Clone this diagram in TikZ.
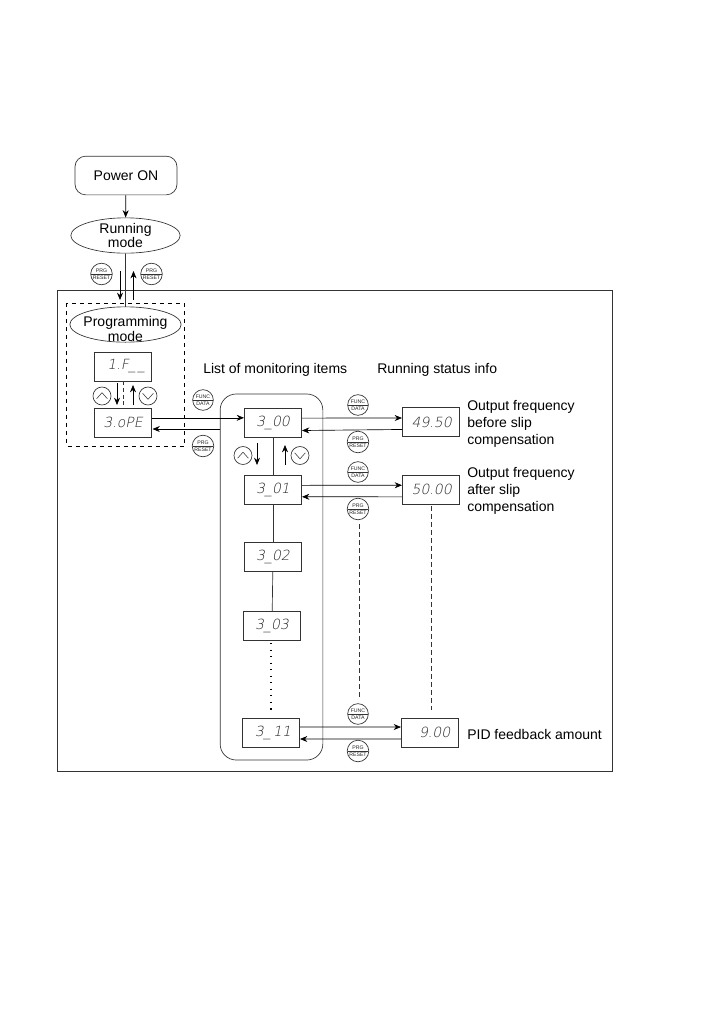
\documentclass[tikz,border=0pt]{standalone}
\usepackage{fontspec}
\setmainfont{Liberation Sans}
\newfontfamily\segfont[FakeSlant=0.2]{DejaVu Sans ExtraLight}
\usetikzlibrary{arrows.meta,shapes.geometric,shapes.multipart}
\tikzset{
	arr/.style={-{Stealth[length=5.5pt,width=4.5pt]},line width=0.5pt},
	conn/.style={line width=0.5pt,draw=black!80},
	dispbox/.style={draw=black!80,line width=0.5pt,rectangle,minimum width=43pt,minimum height=21.5pt,inner sep=0pt,font=\segfont\fontsize{10.5}{11}\selectfont,text=black!85},
	modeoval/.style={draw=black!80,line width=0.5pt,ellipse,minimum width=82pt,minimum height=26.5pt,inner xsep=-2pt,inner ysep=-4pt,align=center,font=\fontsize{10.5}{11}\selectfont},
	keybtn/.style={draw=black!80,line width=0.5pt,circle split,inner xsep=0pt,inner ysep=0.9pt,minimum size=15.5pt,font=\fontsize{3.9}{3.9}\selectfont,text=black!85},
	arrowkey/.style={draw=black!80,line width=0.5pt,circle,minimum size=13.5pt,inner sep=0pt},
	upkey/.style={arrowkey,path picture={\draw[line width=0.4pt] ([xshift=-4pt,yshift=-2pt]path picture bounding box.center) -- ([yshift=2.5pt]path picture bounding box.center) -- ([xshift=4pt,yshift=-2pt]path picture bounding box.center);}},
	downkey/.style={arrowkey,path picture={\draw[line width=0.4pt] ([xshift=-4pt,yshift=2pt]path picture bounding box.center) -- ([yshift=-2.5pt]path picture bounding box.center) -- ([xshift=4pt,yshift=2pt]path picture bounding box.center);}},
	note/.style={align=left,anchor=west,inner sep=0pt,font=\fontsize{10.5}{13}\selectfont},
}
\begin{document}
\begin{tikzpicture}[x=0.75pt,y=-0.75pt]
	\useasboundingbox (0,0) rectangle (725,1032);
	\fill[white] (0,0) rectangle (725,1032);

	% frames
	\draw[conn] (57,290) rectangle (612,771);
	\draw[line width=0.7pt,dashed] (66.5,303) rectangle (184,446);
	\node[draw=black!80,line width=0.5pt,rounded corners=12pt,minimum width=77pt,minimum height=274.5pt,inner sep=0pt] (list) at (271.5,577) {};

	% left column
	\node[draw=black!80,line width=0.5pt,rounded corners=8pt,minimum width=76.5pt,minimum height=29pt,font=\fontsize{10.5}{12}\selectfont] (power) at (126,175.5) {Power ON};
	\node[modeoval] (run) at (125.5,235.5) {Running\\mode};
	\node[modeoval,inner ysep=-7pt] (prog) at (125.5,324.5) {\rule{0pt}{14pt}Programming\\mode};
	\node[dispbox] (fcode) at (123,366.5) {\hspace{5pt}1.F\_\,\_};
	\node[dispbox] (ope) at (123,422.5) {3.oPE};

	% monitoring items
	\node[dispbox] (mon0) at (273,422.5) {3\_00};
	\node[dispbox] (mon1) at (273,490) {3\_01};
	\node[dispbox] (mon2) at (273,556.5) {3\_02};
	\node[dispbox] (mon3) at (272,626) {3\_03};
	\node[dispbox] (mon11) at (271,733) {\hspace{3pt}3\_\,11};

	% running status
	\node[dispbox] (val0) at (431,422) {\hspace{1pt}49.50};
	\node[dispbox] (val1) at (431,489.5) {\hspace{1pt}50.00};
	\node[dispbox] (val11) at (430,732.5) {\hspace{7pt}9.00};

	% keys
	\node[keybtn] (prgA) at (101.5,274) {PRG\nodepart{lower}RESET};
	\node[keybtn] (prgB) at (151.5,274) {PRG\nodepart{lower}RESET};
	\node[upkey] (upA) at (102,396) {};
	\node[downkey] (downA) at (148,396) {};
	\node[upkey] (upB) at (243,455.5) {};
	\node[downkey] (downB) at (300,455.5) {};
	\node[keybtn] (funcA) at (203,400) {FUNC\nodepart{lower}DATA};
	\node[keybtn] (prgC) at (203,446) {PRG\nodepart{lower}RESET};
	\node[keybtn] (funcB) at (358,405) {FUNC\nodepart{lower}DATA};
	\node[keybtn] (prgD) at (358,442) {PRG\nodepart{lower}RESET};
	\node[keybtn] (funcC) at (358,472) {FUNC\nodepart{lower}DATA};
	\node[keybtn] (prgE) at (358,509) {PRG\nodepart{lower}RESET};
	\node[keybtn] (funcD) at (358,714) {FUNC\nodepart{lower}DATA};
	\node[keybtn] (prgF) at (358,751) {PRG\nodepart{lower}RESET};

	% labels
	\node[note] (lblist) at (203,370) {List of monitoring items};
	\node[note] (lbstat) at (377,370) {Running status info};
	\node[note] (lbval0) at (467,424) {Output frequency\\before slip\\compensation};
	\node[note] (lbval1) at (467,491) {Output frequency\\after slip\\compensation};
	\node[note] (lbval11) at (467,734) {PID feedback amount};

	% free ends
	\coordinate (runL) at (120,271);
	\coordinate (runLb) at (120,300);
	\coordinate (runR) at (133.5,300);
	\coordinate (runRb) at (133.5,271);
	\coordinate (selA) at (117,383);
	\coordinate (selAb) at (117,405);
	\coordinate (selB) at (133,405);
	\coordinate (selBb) at (133,385);
	\coordinate (selC) at (257,443);
	\coordinate (selCb) at (257,465);
	\coordinate (selD) at (285,465);
	\coordinate (selDb) at (285,445);
	\coordinate (opeback) at (152.5,429);
	\coordinate (dashA) at (359,524);
	\coordinate (dashAb) at (359,697);
	\coordinate (dashB) at (431,506);
	\coordinate (dashBb) at (431,710);
	\coordinate (dotA) at (271,643);
	\coordinate (dotAb) at (271,714);

	% connectors
	\draw[arr] (power) -- (run);
	\draw[conn] (run) -- (prog);
	\draw[arr] (runL) -- (runLb);
	\draw[arr] (runR) -- (runRb);
	\draw[conn,dash pattern=on 3pt off 2pt] (fcode.south) -- (ope.north);
	\draw[arr] (selA) -- (selAb);
	\draw[arr] (selB) -- (selBb);
	\draw[arr] (selC) -- (selCb);
	\draw[arr] (selD) -- (selDb);
	\draw[arr] ([yshift=3.5pt]ope.east) -- ([yshift=3.5pt]mon0.west);
	\draw[arr] (list.west |- opeback) -- (opeback);
	\draw[conn] (mon0) -- (mon1);
	\draw[conn] (mon1) -- (mon2);
	\draw[conn] (mon2) -- (mon3);
	\draw[line width=0.9pt,dash pattern=on 0.9pt off 4pt] (dotA) -- (dotAb);
	\draw[arr] ([yshift=3.3pt]mon0.east) -- ([yshift=3pt]val0.west);
	\draw[arr] ([yshift=-5.6pt]val0.west) -- ([yshift=-6pt]mon0.east);
	\draw[arr] ([yshift=3.5pt]mon1.east) -- ([yshift=3.2pt]val1.west);
	\draw[arr] ([yshift=-5.5pt]val1.west) -- ([yshift=-5.1pt]mon1.east);
	\draw[arr] ([yshift=4.5pt]mon11.east) -- ([yshift=4.1pt]val11.west);
	\draw[arr] ([yshift=-4.9pt]val11.west) -- ([yshift=-4.5pt]mon11.east);
	\draw[conn,dash pattern=on 3.5pt off 2.5pt] (dashA) -- (dashAb);
	\draw[conn,dash pattern=on 3.5pt off 2.5pt] (dashB) -- (dashBb);
\end{tikzpicture}
\end{document}
